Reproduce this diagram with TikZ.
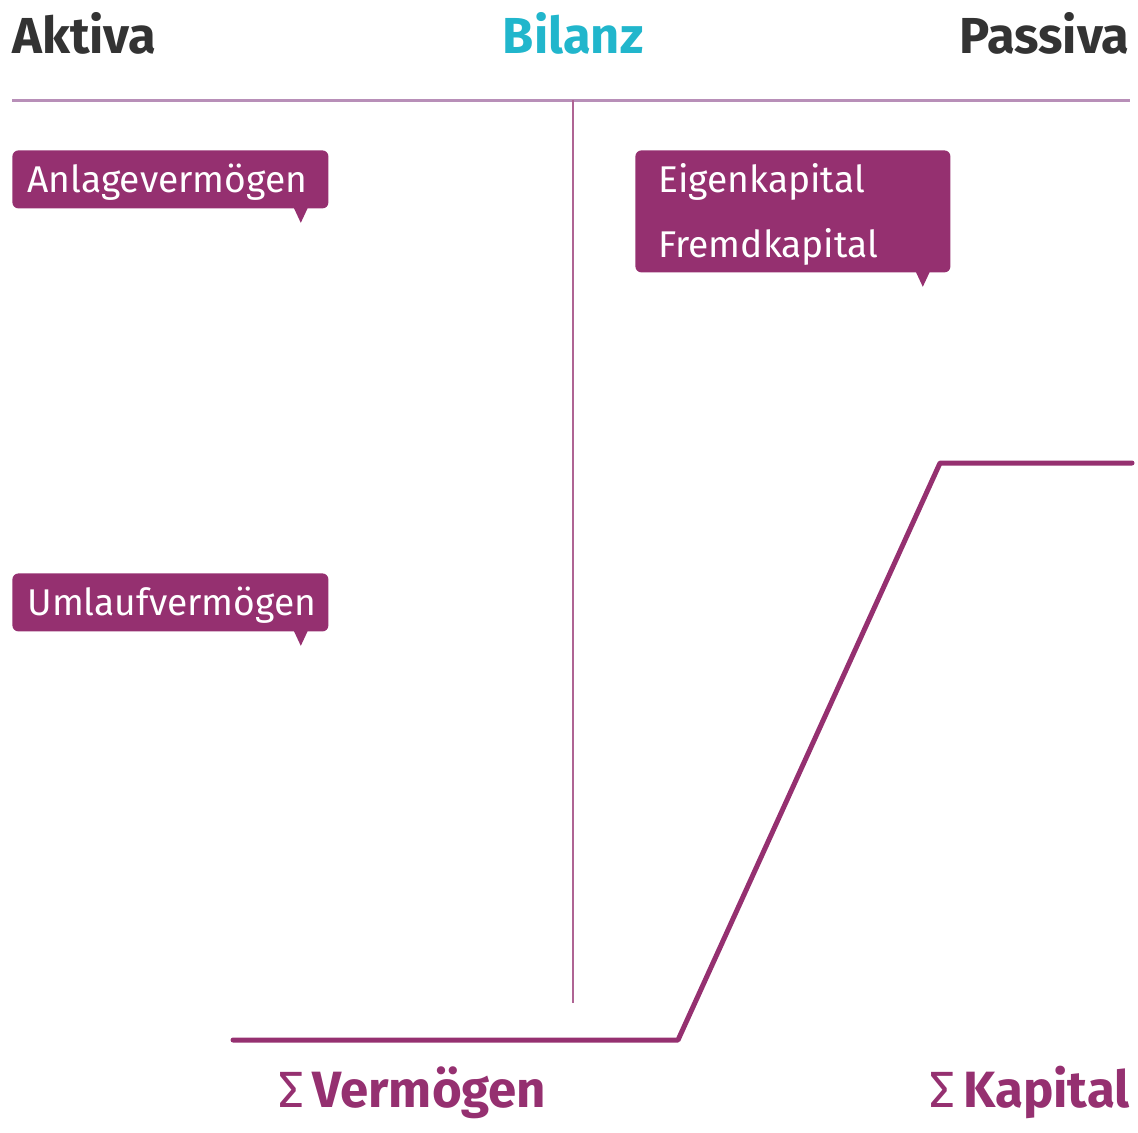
\documentclass[tikz,border=0pt]{standalone}
\usepackage{fontspec}
\setmainfont{Fira Sans}
\usetikzlibrary{positioning}

\definecolor{bilanzPurple}{RGB}{149,48,112}
\definecolor{bilanzCyan}{RGB}{33,182,204}
\definecolor{bilanzGray}{RGB}{51,51,51}
\definecolor{bilanzRule}{RGB}{184,143,184}

\tikzset{
  head/.style={font=\bfseries\fontsize{25.3}{30}\selectfont, inner sep=0pt, text=bilanzGray},
  callout/.style={fill=bilanzPurple, rounded corners=3pt, text=white, align=left,
    font=\fontsize{18.6}{32.5}\selectfont, inner xsep=7.5pt, inner ysep=0pt,
    text height=21pt, text depth=8pt, anchor=north west},
  sumlabel/.style={font=\bfseries\fontsize{25.5}{30}\selectfont, inner sep=0pt, text=bilanzPurple},
  kurve/.style={draw=bilanzPurple, line width=2.5pt, line cap=round, line join=round}
}
% small tip under a callout box
\newcommand{\calltip}[1]{%
  \fill[bilanzPurple] ([xshift=-17.5pt,yshift=0.5pt]#1.south east) --
    ([xshift=-10.5pt,yshift=0.5pt]#1.south east) --
    ([xshift=-14pt,yshift=-7pt]#1.south east) -- cycle;}

\begin{document}
\begin{tikzpicture}[x=0.5pt,y=-0.5pt]
\path[use as bounding box] (0,0) rectangle (1138,1132);

% Kopfzeile
\node[head, anchor=base west] (aktiva) at (12,53) {Aktiva};
\node[head, anchor=base, text=bilanzCyan] (bilanz) at (573,53) {Bilanz};
\node[head, anchor=base east] (passiva) at (1130,53) {Passiva};

\coordinate (ruleL) at (12,100);
\coordinate (ruleR) at (1130,100);
\coordinate (ruleM) at (573,100);
\coordinate (ruleB) at (573,1003);
\draw[bilanzRule, line width=1.5pt] (ruleL) -- (ruleR);
\draw[bilanzPurple!75, line width=1pt] (ruleM) -- (ruleB);

% Aktivseite
\node[callout, text width=143pt] (anlage) at (12,150) {Anlagevermögen};
\calltip{anlage}
\node[callout, text width=143pt] (umlauf) at (12,573) {Umlaufvermögen};
\calltip{umlauf}

% Passivseite
\node[callout, inner xsep=11.5pt, text width=134.5pt, text depth=40pt] (kapital) at (635,150) {Eigenkapital\\Fremdkapital};
\calltip{kapital}

% Summenlinie
\coordinate (k1) at (233,1040);
\coordinate (k2) at (678,1040);
\coordinate (k3) at (940,463);
\coordinate (k4) at (1132,463);
\draw[kurve] (k1) -- (k2) -- (k3) -- (k4);

\node[sumlabel, anchor=base west] (sumV) at (278,1107) {{\mdseries Σ}\,Vermögen};
\node[sumlabel, anchor=base east] (sumK) at (1130,1107) {{\mdseries Σ}\,Kapital};
\end{tikzpicture}
\end{document}
